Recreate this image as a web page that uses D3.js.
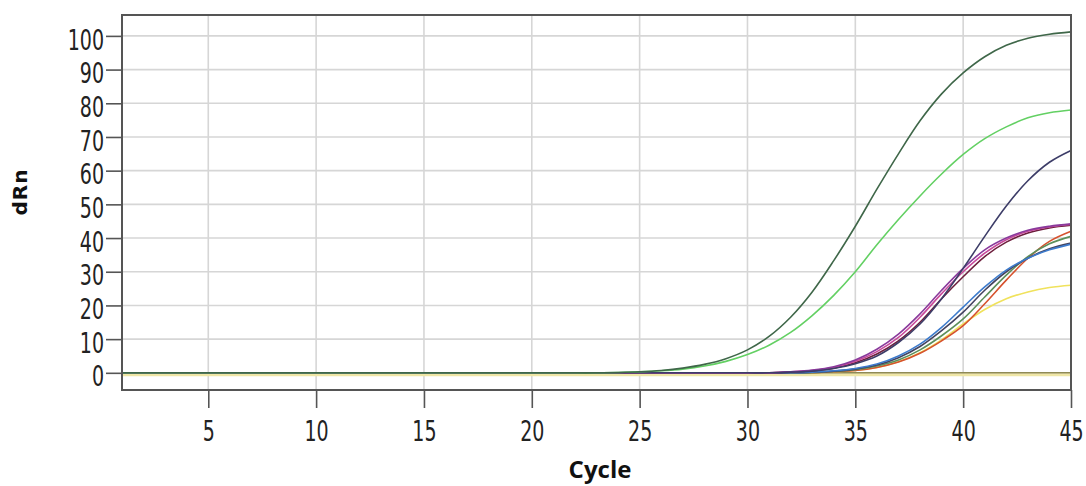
<!DOCTYPE html>
<html>
<head>
<meta charset="utf-8">
<script src="https://cdn.jsdelivr.net/npm/d3@7"></script>
<style>
  body { margin: 0; background: #fff; }
</style>
</head>
<body>
<svg id="chart" width="1086" height="486"></svg>
<script>
// cycle numbers on the x axis
const cycles = [1, 2, 3, 4, 5, 6, 7, 8, 9, 10, 11, 12, 13, 14, 15, 16, 17, 18, 19, 20,
  21, 22, 23, 24, 25, 26, 27, 28, 29, 30, 31, 32, 33, 34, 35, 36, 37, 38, 39, 40,
  41, 42, 43, 44, 45];

const xTicks = [5, 10, 15, 20, 25, 30, 35, 40, 45];
const yTicks = [0, 10, 20, 30, 40, 50, 60, 70, 80, 90, 100];

// dRn per cycle
const darkGreen = [0, 0, 0, 0, 0, 0, 0, 0, 0, 0, 0, 0, 0, 0, 0, 0, 0, 0, 0, 0, 0, 0, 0,
  0.1, 0.3, 0.7, 1.4, 2.5, 4.2, 6.8, 10.8, 16.5, 24, 33.3, 43.5, 54.5, 65, 74.8, 82.8, 89, 93.8, 97.2, 99.3, 100.5, 101.2];
const lightGreen = [0, 0, 0, 0, 0, 0, 0, 0, 0, 0, 0, 0, 0, 0, 0, 0, 0, 0, 0, 0, 0, 0, 0,
  0.1, 0.3, 0.6, 1.1, 2, 3.4, 5.4, 8.2, 12, 17, 23, 30, 38, 45.5, 52.5, 59, 64.8, 69.5, 73, 75.7, 77.2, 78];
const navy = [0, 0, 0, 0, 0, 0, 0, 0, 0, 0, 0, 0, 0, 0, 0, 0, 0, 0, 0, 0, 0, 0, 0, 0, 0, 0, 0, 0, 0, 0, 0,
  0.2, 0.5, 1.3, 2.7, 5, 9, 14.5, 22, 31, 40.5, 49.5, 57, 62.5, 66];
const purple = [0, 0, 0, 0, 0, 0, 0, 0, 0, 0, 0, 0, 0, 0, 0, 0, 0, 0, 0, 0, 0, 0, 0, 0, 0, 0, 0, 0, 0, 0, 0,
  0.3, 0.8, 1.8, 3.8, 7, 11.5, 17.5, 24.5, 31, 36.5, 40, 42.3, 43.5, 44.2];
const magenta = [0, 0, 0, 0, 0, 0, 0, 0, 0, 0, 0, 0, 0, 0, 0, 0, 0, 0, 0, 0, 0, 0, 0, 0, 0, 0, 0, 0, 0, 0, 0,
  0.3, 0.7, 1.6, 3.4, 6.3, 10.5, 16.5, 23.5, 30, 35.5, 39.5, 42, 43.3, 44];
const maroon = [0, 0, 0, 0, 0, 0, 0, 0, 0, 0, 0, 0, 0, 0, 0, 0, 0, 0, 0, 0, 0, 0, 0, 0, 0, 0, 0, 0, 0, 0, 0,
  0.2, 0.6, 1.4, 3, 5.6, 9.5, 15, 22, 28.5, 34.5, 38.8, 41.5, 43, 43.8];
const blue = [0, 0, 0, 0, 0, 0, 0, 0, 0, 0, 0, 0, 0, 0, 0, 0, 0, 0, 0, 0, 0, 0, 0, 0, 0, 0, 0, 0, 0, 0, 0, 0,
  0.2, 0.6, 1.3, 2.6, 5, 8.5, 13.5, 19.5, 25.5, 30.5, 34, 36.5, 38.2];
const slate = [0, 0, 0, 0, 0, 0, 0, 0, 0, 0, 0, 0, 0, 0, 0, 0, 0, 0, 0, 0, 0, 0, 0, 0, 0, 0, 0, 0, 0, 0, 0, 0,
  0.2, 0.5, 1.1, 2.3, 4.5, 7.8, 12.5, 18, 24.5, 30, 34, 36.8, 38.5];
const teal = [0, 0, 0, 0, 0, 0, 0, 0, 0, 0, 0, 0, 0, 0, 0, 0, 0, 0, 0, 0, 0, 0, 0, 0, 0, 0, 0, 0, 0, 0, 0, 0, 0,
  0.4, 0.9, 2, 3.8, 6.8, 11, 16, 22.5, 29, 34.5, 38.3, 40.5];
const orange = [0, 0, 0, 0, 0, 0, 0, 0, 0, 0, 0, 0, 0, 0, 0, 0, 0, 0, 0, 0, 0, 0, 0, 0, 0, 0, 0, 0, 0, 0, 0, 0, 0,
  0.3, 0.7, 1.6, 3.2, 5.8, 9.5, 14, 20.5, 27.5, 34, 39, 42];
const yellow = [0, 0, 0, 0, 0, 0, 0, 0, 0, 0, 0, 0, 0, 0, 0, 0, 0, 0, 0, 0, 0, 0, 0, 0, 0, 0, 0, 0, 0, 0, 0, 0, 0,
  0.3, 0.7, 1.6, 3.3, 6, 9.8, 14.5, 18.8, 22, 24, 25.3, 26];
// negative controls, flat
const ntcPale = [-0.6, -0.6, -0.6, -0.6, -0.6, -0.6, -0.6, -0.6, -0.6, -0.6, -0.6, -0.6, -0.6, -0.6, -0.6,
  -0.6, -0.6, -0.6, -0.6, -0.6, -0.6, -0.6, -0.6, -0.6, -0.6, -0.6, -0.6, -0.6, -0.6, -0.6,
  -0.6, -0.6, -0.6, -0.6, -0.6, -0.6, -0.6, -0.6, -0.6, -0.6, -0.6, -0.6, -0.6, -0.6, -0.6];
const ntcOlive = [0, 0, 0, 0, 0, 0, 0, 0, 0, 0, 0, 0, 0, 0, 0, 0, 0, 0, 0, 0, 0, 0, 0,
  0, 0, 0, 0, 0, 0, 0, 0, 0, 0, 0, 0, 0, 0, 0, 0, 0, 0, 0, 0, 0, 0];

const series = [
  { values: ntcPale, color: "#efe6a6", width: 3 },
  { values: ntcOlive, color: "#8f8a55", width: 1.6 },
  { values: yellow, color: "#f0e25c", width: 1.6 },
  { values: orange, color: "#d6522e", width: 1.6 },
  { values: teal, color: "#5c8f5a", width: 1.6 },
  { values: slate, color: "#43435f", width: 1.6 },
  { values: blue, color: "#3d7bcc", width: 1.6 },
  { values: maroon, color: "#6d1f3d", width: 1.6 },
  { values: magenta, color: "#c8489a", width: 1.6 },
  { values: purple, color: "#8a3a9c", width: 1.6 },
  { values: navy, color: "#3d3d68", width: 1.6 },
  { values: lightGreen, color: "#63d063", width: 1.6 },
  { values: darkGreen, color: "#3f6749", width: 1.6 },
];

const width = 1086;
const height = 486;
const margin = { top: 15, right: 15, bottom: 96, left: 122 };

const svg = d3.select("#chart");

const xScale = d3.scaleLinear()
  .domain([1, 45])
  .range([margin.left, width - margin.right]);

const yScale = d3.scaleLinear()
  .domain([-5.1, 106.2])
  .range([height - margin.bottom, margin.top]);

// grid
svg.append("g")
  .selectAll("line")
  .data(xTicks.filter((d) => d < 45))
  .join("line")
  .attr("x1", (d) => xScale(d))
  .attr("x2", (d) => xScale(d))
  .attr("y1", margin.top)
  .attr("y2", height - margin.bottom)
  .attr("stroke", "#d6d6d6")
  .attr("stroke-width", 1.6);

svg.append("g")
  .selectAll("line")
  .data(yTicks)
  .join("line")
  .attr("x1", margin.left)
  .attr("x2", width - margin.right)
  .attr("y1", (d) => yScale(d))
  .attr("y2", (d) => yScale(d))
  .attr("stroke", "#d6d6d6")
  .attr("stroke-width", 1.6);

// curves
const line = d3.line()
  .x((d, i) => xScale(cycles[i]))
  .y((d) => yScale(d))
  .curve(d3.curveCatmullRom.alpha(0.5));

svg.append("g")
  .selectAll("path")
  .data(series)
  .join("path")
  .attr("fill", "none")
  .attr("stroke", (d) => d.color)
  .attr("stroke-width", (d) => d.width)
  .attr("d", (d) => line(d.values));

// frame
svg.append("rect")
  .attr("x", margin.left)
  .attr("y", margin.top)
  .attr("width", width - margin.left - margin.right)
  .attr("height", height - margin.top - margin.bottom)
  .attr("fill", "none")
  .attr("stroke", "#555")
  .attr("stroke-width", 2);

const labelScale = 0.68;

const leftAxis = d3.axisLeft(yScale)
  .tickValues(yTicks)
  .tickSize(16)
  .tickPadding(0);

const bottomAxis = d3.axisBottom(xScale)
  .tickValues(xTicks)
  .tickSize(18)
  .tickPadding(0);

const leftG = svg.append("g")
  .attr("transform", `translate(${margin.left},0)`)
  .call(leftAxis);

const bottomG = svg.append("g")
  .attr("transform", `translate(0,${height - margin.bottom})`)
  .call(bottomAxis);

[leftG, bottomG].forEach((g) => {
  g.select(".domain").remove();
  g.selectAll(".tick line").attr("stroke", "#555").attr("stroke-width", 1.6);
  g.selectAll(".tick text")
    .attr("fill", "#222")
    .style("font-family", "DejaVu Sans")
    .style("font-size", "28px");
});

leftG.selectAll(".tick text")
  .attr("x", -18 / labelScale)
  .attr("dy", "0.47em")
  .attr("transform", `scale(${labelScale},1)`);

bottomG.selectAll(".tick text")
  .attr("y", 51)
  .attr("dy", 0)
  .attr("transform", `scale(${labelScale},1)`);

// titles
svg.append("text")
  .attr("x", 600)
  .attr("y", 478)
  .attr("text-anchor", "middle")
  .style("font-family", "Open Sans")
  .style("font-weight", 700)
  .style("font-size", "24px")
  .attr("fill", "#111")
  .text("Cycle");

svg.append("text")
  .attr("transform", "translate(27,192) rotate(-90)")
  .attr("text-anchor", "middle")
  .style("font-family", "DejaVu Sans")
  .style("font-weight", 700)
  .style("font-size", "20px")
  .style("letter-spacing", "1px")
  .attr("fill", "#111")
  .text("dRn");
</script>
</body>
</html>
